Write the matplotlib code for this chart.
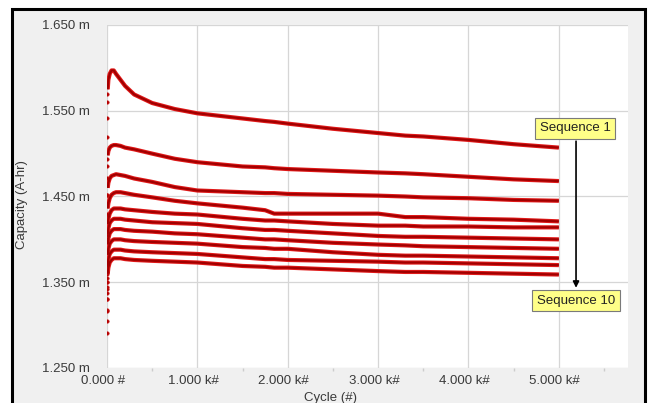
"""
Capacity fade vs cycle count, sequences 1..10.
"""
import matplotlib

matplotlib.use("Agg")
import matplotlib.pyplot as plt
from matplotlib.patches import Rectangle
from matplotlib.transforms import ScaledTranslation

plt.rcParams["font.family"] = ["Liberation Sans", "DejaVu Sans"]

# cycles for the continuous part of each trace
CYCLES = [8, 15, 30, 50, 75, 100, 150, 200, 300, 500, 750, 1000, 1500, 1750,
          1850, 2000, 2500, 3000, 3300, 3500, 4000, 4500, 5000]
# first few cycles, drawn as loose dots
EARLY_CYCLES = [1, 2, 3, 4]

SEQ_CAP = [
    [1.575, 1.586, 1.593, 1.597, 1.597, 1.593, 1.586, 1.579, 1.569, 1.559, 1.552, 1.547, 1.541, 1.538,
     1.537, 1.535, 1.529, 1.524, 1.521, 1.520, 1.516, 1.511, 1.507],
    [1.498, 1.503, 1.507, 1.509, 1.510, 1.510, 1.509, 1.507, 1.505, 1.500, 1.494, 1.490, 1.485, 1.484,
     1.483, 1.482, 1.480, 1.478, 1.477, 1.476, 1.473, 1.470, 1.468],
    [1.460, 1.466, 1.471, 1.474, 1.475, 1.476, 1.475, 1.474, 1.471, 1.467, 1.461, 1.457, 1.455, 1.454,
     1.454, 1.453, 1.452, 1.451, 1.450, 1.449, 1.448, 1.446, 1.445],
    [1.436, 1.442, 1.448, 1.452, 1.454, 1.455, 1.455, 1.454, 1.452, 1.449, 1.445, 1.442, 1.437, 1.434,
     1.430, 1.430, 1.430, 1.430, 1.426, 1.426, 1.424, 1.423, 1.421],
    [1.418, 1.424, 1.430, 1.434, 1.436, 1.436, 1.436, 1.435, 1.434, 1.432, 1.430, 1.429, 1.424, 1.422,
     1.422, 1.421, 1.418, 1.416, 1.416, 1.415, 1.415, 1.414, 1.414],
    [1.406, 1.413, 1.419, 1.422, 1.424, 1.424, 1.424, 1.423, 1.422, 1.420, 1.419, 1.418, 1.413, 1.411,
     1.411, 1.410, 1.407, 1.404, 1.403, 1.403, 1.402, 1.401, 1.400],
    [1.394, 1.401, 1.407, 1.410, 1.412, 1.412, 1.412, 1.411, 1.410, 1.409, 1.407, 1.406, 1.402, 1.400,
     1.400, 1.399, 1.396, 1.394, 1.393, 1.392, 1.391, 1.390, 1.389],
    [1.382, 1.389, 1.395, 1.398, 1.400, 1.400, 1.400, 1.399, 1.398, 1.397, 1.396, 1.395, 1.391, 1.390,
     1.389, 1.389, 1.385, 1.382, 1.381, 1.381, 1.380, 1.379, 1.378],
    [1.370, 1.377, 1.383, 1.386, 1.388, 1.388, 1.388, 1.387, 1.386, 1.385, 1.384, 1.383, 1.379, 1.377,
     1.377, 1.376, 1.375, 1.374, 1.373, 1.373, 1.372, 1.371, 1.370],
    [1.360, 1.367, 1.373, 1.376, 1.378, 1.378, 1.378, 1.377, 1.376, 1.375, 1.374, 1.373, 1.369, 1.368,
     1.367, 1.367, 1.365, 1.363, 1.362, 1.362, 1.361, 1.360, 1.359],
]

SEQ_EARLY = [
    [1.519, 1.542, 1.560, 1.570],
    [1.452, 1.472, 1.485, 1.494],
    [1.405, 1.428, 1.442, 1.452],
    [1.385, 1.405, 1.420, 1.430],
    [1.360, 1.385, 1.400, 1.410],
    [1.345, 1.370, 1.388, 1.398],
    [1.330, 1.355, 1.375, 1.386],
    [1.318, 1.342, 1.362, 1.374],
    [1.305, 1.330, 1.350, 1.362],
    [1.291, 1.317, 1.338, 1.350],
]

XTICKS = [0, 1000, 2000, 3000, 4000, 5000]
XTICK_LABELS = ["0.000 #", "1.000 k#", "2.000 k#", "3.000 k#", "4.000 k#", "5.000 k#"]
YTICKS = [1.25, 1.35, 1.45, 1.55, 1.65]
YTICK_LABELS = ["1.250 m", "1.350 m", "1.450 m", "1.550 m", "1.650 m"]

W, H = 649, 403
fig = plt.figure(figsize=(W / 100, H / 100), dpi=100)
fig.patch.set_facecolor("white")

# gray panel with black frame (bottom edge is cut off in the original)
fig.patches.append(Rectangle((12 / W, -0.05), (645 - 12) / W, 1.05 - 9.5 / H,
                             transform=fig.transFigure, facecolor="#f0f0f0",
                             edgecolor="black", lw=2.2, zorder=-5))

ax = fig.add_axes([107 / W, 1 - 368 / H, (628 - 107) / W, (368 - 25) / H])
ax.set_facecolor("white")
for s in ax.spines.values():
    s.set_visible(False)

for cap, early in zip(SEQ_CAP, SEQ_EARLY):
    ax.plot(CYCLES, cap, color="#e01818", lw=3.0, solid_capstyle="butt", zorder=3)
    ax.plot(CYCLES, cap, color="#a00000", lw=1.5, solid_capstyle="butt", zorder=4)
    ax.plot(EARLY_CYCLES, early, "o", color="#b00000", ms=2.4, mec="#c81010", mew=0.5, zorder=4)

ax.set_xlim(0, 5765)
ax.set_ylim(1.25, 1.65)
ax.set_xticks(XTICKS)
ax.set_xticklabels(XTICK_LABELS)
ax.set_yticks(YTICKS)
ax.set_yticklabels(YTICK_LABELS)
ax.set_xticks([500, 1500, 2500, 3500, 4500, 5500], minor=True)
ax.tick_params(axis="both", which="major", length=0, labelsize=9.5, labelcolor="#3a3a3a")
ax.tick_params(axis="x", which="major", pad=5)
ax.tick_params(axis="y", which="major", pad=12)
ax.tick_params(axis="x", which="minor", length=2, color="#cccccc", width=1)
for lab in ax.get_xticklabels():
    lab.set_transform(lab.get_transform() + ScaledTranslation(-0.04, 0, fig.dpi_scale_trans))
ax.grid(True, which="major", color="#d6d6d6", lw=0.9)
ax.set_axisbelow(True)

fig.text(330 / W, 1 - 398 / H, "Cycle (#)", ha="center", va="center", fontsize=9.5, color="#3a3a3a")
fig.text(22 / W, 1 - 205 / H, "Capacity (A-hr)", ha="center", va="center", rotation=90,
         fontsize=9.5, color="#3a3a3a")

box = dict(boxstyle="square,pad=0.35", facecolor="#ffff88", edgecolor="#7a7a7a", lw=0.8)
ax.text(5183, 1.5295, "Sequence 1", ha="center", va="center", fontsize=9.5, color="#222222",
        bbox=box, zorder=6)
ax.text(5188, 1.3284, "Sequence 10", ha="center", va="center", fontsize=9.5, color="#222222",
        bbox=box, zorder=6)
ax.annotate("", xy=(5190, 1.3435), xytext=(5190, 1.5145),
            arrowprops=dict(arrowstyle="-|>", color="black", lw=1.2, mutation_scale=9,
                            shrinkA=0, shrinkB=0), zorder=5)

fig.savefig("out.png", dpi=100)
